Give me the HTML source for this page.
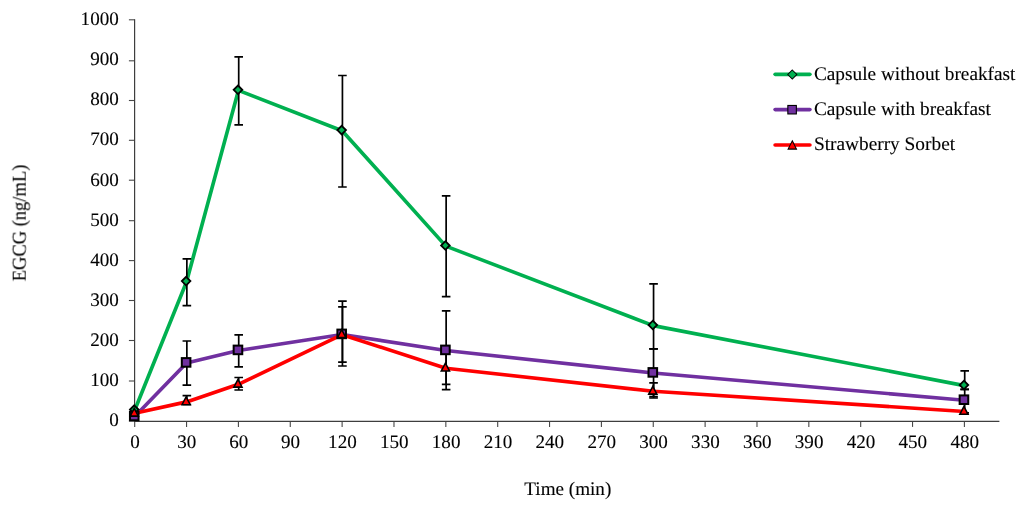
<!DOCTYPE html><html><head><meta charset="utf-8"><style>html,body{margin:0;padding:0;background:#fff}svg{display:block}text{font-family:"Liberation Serif",serif;fill:#000;stroke:#000;stroke-width:.12px;text-rendering:geometricPrecision}</style></head><body>
<svg width="1024" height="506" viewBox="0 0 1024 506">
<rect width="1024" height="506" fill="#fff"/>
<g stroke="#484848" stroke-width="1.1" fill="none">
<line x1="128.90" y1="421.10" x2="134.7" y2="421.10"/>
<line x1="128.90" y1="381.00" x2="134.7" y2="381.00"/>
<line x1="128.90" y1="340.50" x2="134.7" y2="340.50"/>
<line x1="128.90" y1="300.50" x2="134.7" y2="300.50"/>
<line x1="128.90" y1="260.60" x2="134.7" y2="260.60"/>
<line x1="128.90" y1="220.70" x2="134.7" y2="220.70"/>
<line x1="128.90" y1="180.20" x2="134.7" y2="180.20"/>
<line x1="128.90" y1="140.30" x2="134.7" y2="140.30"/>
<line x1="128.90" y1="100.50" x2="134.7" y2="100.50"/>
<line x1="128.90" y1="60.80" x2="134.7" y2="60.80"/>
<line x1="128.90" y1="19.80" x2="134.7" y2="19.80"/>
<line x1="134.70" y1="421.1" x2="134.70" y2="426.90"/>
<line x1="186.56" y1="421.1" x2="186.56" y2="426.90"/>
<line x1="238.41" y1="421.1" x2="238.41" y2="426.90"/>
<line x1="290.27" y1="421.1" x2="290.27" y2="426.90"/>
<line x1="342.12" y1="421.1" x2="342.12" y2="426.90"/>
<line x1="393.98" y1="421.1" x2="393.98" y2="426.90"/>
<line x1="445.84" y1="421.1" x2="445.84" y2="426.90"/>
<line x1="497.69" y1="421.1" x2="497.69" y2="426.90"/>
<line x1="549.55" y1="421.1" x2="549.55" y2="426.90"/>
<line x1="601.41" y1="421.1" x2="601.41" y2="426.90"/>
<line x1="653.26" y1="421.1" x2="653.26" y2="426.90"/>
<line x1="705.12" y1="421.1" x2="705.12" y2="426.90"/>
<line x1="756.98" y1="421.1" x2="756.98" y2="426.90"/>
<line x1="808.83" y1="421.1" x2="808.83" y2="426.90"/>
<line x1="860.69" y1="421.1" x2="860.69" y2="426.90"/>
<line x1="912.54" y1="421.1" x2="912.54" y2="426.90"/>
<line x1="964.40" y1="421.1" x2="964.40" y2="426.90"/>
</g>
<g stroke="#3e3e3e" fill="none">
<line x1="134.6" y1="19.20" x2="134.6" y2="421.9" stroke-width="1.2"/>
<line x1="134" y1="421.3" x2="999.4" y2="421.3" stroke-width="1.3"/>
</g>
<g font-size="19.1" style="opacity:.999">
<text x="118.80" y="425.70" text-anchor="end">0</text>
<text x="118.80" y="385.67" text-anchor="end">100</text>
<text x="118.80" y="345.64" text-anchor="end">200</text>
<text x="118.80" y="305.61" text-anchor="end">300</text>
<text x="118.80" y="265.58" text-anchor="end">400</text>
<text x="118.80" y="225.55" text-anchor="end">500</text>
<text x="118.80" y="185.52" text-anchor="end">600</text>
<text x="118.80" y="145.49" text-anchor="end">700</text>
<text x="118.80" y="105.46" text-anchor="end">800</text>
<text x="118.80" y="65.43" text-anchor="end">900</text>
<text x="118.80" y="25.40" text-anchor="end">1000</text>
<text x="135.00" y="448.3" font-size="19.1" text-anchor="middle">0</text>
<text x="186.86" y="448.3" font-size="19.1" text-anchor="middle">30</text>
<text x="238.71" y="448.3" font-size="19.1" text-anchor="middle">60</text>
<text x="290.57" y="448.3" font-size="19.1" text-anchor="middle">90</text>
<text x="342.43" y="448.3" font-size="19.1" text-anchor="middle">120</text>
<text x="394.28" y="448.3" font-size="19.1" text-anchor="middle">150</text>
<text x="446.14" y="448.3" font-size="19.1" text-anchor="middle">180</text>
<text x="497.99" y="448.3" font-size="19.1" text-anchor="middle">210</text>
<text x="549.85" y="448.3" font-size="19.1" text-anchor="middle">240</text>
<text x="601.71" y="448.3" font-size="19.1" text-anchor="middle">270</text>
<text x="653.56" y="448.3" font-size="19.1" text-anchor="middle">300</text>
<text x="705.42" y="448.3" font-size="19.1" text-anchor="middle">330</text>
<text x="757.28" y="448.3" font-size="19.1" text-anchor="middle">360</text>
<text x="809.13" y="448.3" font-size="19.1" text-anchor="middle">390</text>
<text x="860.99" y="448.3" font-size="19.1" text-anchor="middle">420</text>
<text x="912.84" y="448.3" font-size="19.1" text-anchor="middle">450</text>
<text x="964.70" y="448.3" font-size="19.1" text-anchor="middle">480</text>
<text x="524.3" y="494.9" font-size="19.2" textLength="87.0" lengthAdjust="spacingAndGlyphs">Time (min)</text>
<text transform="translate(25.7,281.3) rotate(-90)" font-size="19.8" textLength="116.6" lengthAdjust="spacingAndGlyphs">EGCG (ng/mL)</text>
</g>
<polyline points="134.70,410.20 186.56,281.70 238.41,90.40 342.12,130.70 445.84,246.10 653.26,325.60 964.40,385.60" fill="none" stroke="#00b050" stroke-width="3.65" stroke-linejoin="round" stroke-linecap="round"/>
<polyline points="134.70,416.60 186.56,363.00 238.41,350.50 342.12,334.50 445.84,350.50 653.26,373.00 964.40,400.30" fill="none" stroke="#7030a0" stroke-width="3.65" stroke-linejoin="round" stroke-linecap="round"/>
<polyline points="134.70,413.30 186.56,401.90 238.41,384.30 342.12,334.70 445.84,368.20 653.26,391.30 964.40,411.50" fill="none" stroke="#ff0000" stroke-width="3.65" stroke-linejoin="round" stroke-linecap="round"/>
<g stroke="#000" stroke-width="1.7" fill="none"><path d="M186.86 258.80V305.70M182.56 258.80h8.6M182.56 305.70h8.6"/><path d="M238.71 56.80V124.80M234.41 56.80h8.6M234.41 124.80h8.6"/><path d="M342.43 75.50V187.00M338.12 75.50h8.6M338.12 187.00h8.6"/><path d="M446.14 195.90V296.70M441.84 195.90h8.6M441.84 296.70h8.6"/><path d="M653.56 283.80V348.90M649.26 283.80h8.6M649.26 348.90h8.6"/><path d="M964.70 370.90V389.40M960.40 370.90h8.6M960.40 389.40h8.6"/></g>
<g stroke="#000" stroke-width="1.7" fill="none"><path d="M186.86 341.00V385.10M182.56 341.00h8.6M182.56 385.10h8.6"/><path d="M238.71 334.80V366.80M234.41 334.80h8.6M234.41 366.80h8.6"/><path d="M342.43 301.20V366.00M338.12 301.20h8.6M338.12 366.00h8.6"/><path d="M446.14 310.80V389.70M441.84 310.80h8.6M441.84 389.70h8.6"/><path d="M653.56 348.90V396.60M649.26 348.90h8.6M649.26 396.60h8.6"/><path d="M964.70 389.40V412.80M960.40 389.40h8.6M960.40 412.80h8.6"/></g>
<g stroke="#000" stroke-width="1.7" fill="none"><path d="M186.86 395.70V404.50M182.56 395.70h8.6M182.56 404.50h8.6"/><path d="M238.71 377.50V390.00M234.41 377.50h8.6M234.41 390.00h8.6"/><path d="M342.43 306.90V362.10M338.12 306.90h8.6M338.12 362.10h8.6"/><path d="M446.14 350.60V384.40M441.84 350.60h8.6M441.84 384.40h8.6"/><path d="M653.56 382.90V398.00M649.26 382.90h8.6M649.26 398.00h8.6"/></g>
<path d="M134.25 405.30L138.55 409.60L134.25 413.90L129.95 409.60Z" fill="#00b050" stroke="#000" stroke-width="1.8"/>
<path d="M186.11 276.80L190.41 281.10L186.11 285.40L181.81 281.10Z" fill="#00b050" stroke="#000" stroke-width="1.8"/>
<path d="M237.96 85.50L242.26 89.80L237.96 94.10L233.66 89.80Z" fill="#00b050" stroke="#000" stroke-width="1.8"/>
<path d="M341.68 125.80L345.98 130.10L341.68 134.40L337.38 130.10Z" fill="#00b050" stroke="#000" stroke-width="1.8"/>
<path d="M445.39 241.20L449.69 245.50L445.39 249.80L441.09 245.50Z" fill="#00b050" stroke="#000" stroke-width="1.8"/>
<path d="M652.81 320.70L657.11 325.00L652.81 329.30L648.51 325.00Z" fill="#00b050" stroke="#000" stroke-width="1.8"/>
<path d="M963.95 380.70L968.25 385.00L963.95 389.30L959.65 385.00Z" fill="#00b050" stroke="#000" stroke-width="1.8"/>
<rect x="129.95" y="411.70" width="8.6" height="8.6" fill="#7030a0" stroke="#000" stroke-width="2.0"/>
<rect x="181.81" y="358.10" width="8.6" height="8.6" fill="#7030a0" stroke="#000" stroke-width="2.0"/>
<rect x="233.66" y="345.60" width="8.6" height="8.6" fill="#7030a0" stroke="#000" stroke-width="2.0"/>
<rect x="337.38" y="329.60" width="8.6" height="8.6" fill="#7030a0" stroke="#000" stroke-width="2.0"/>
<rect x="441.09" y="345.60" width="8.6" height="8.6" fill="#7030a0" stroke="#000" stroke-width="2.0"/>
<rect x="648.51" y="368.10" width="8.6" height="8.6" fill="#7030a0" stroke="#000" stroke-width="2.0"/>
<rect x="959.65" y="395.40" width="8.6" height="8.6" fill="#7030a0" stroke="#000" stroke-width="2.0"/>
<path d="M134.25 408.30L138.35 416.10L130.15 416.10Z" fill="#ff0000" stroke="#000" stroke-width="1.55" stroke-linejoin="miter"/>
<path d="M186.11 396.90L190.21 404.70L182.01 404.70Z" fill="#ff0000" stroke="#000" stroke-width="1.55" stroke-linejoin="miter"/>
<path d="M237.96 379.30L242.06 387.10L233.86 387.10Z" fill="#ff0000" stroke="#000" stroke-width="1.55" stroke-linejoin="miter"/>
<path d="M341.68 329.70L345.78 337.50L337.57 337.50Z" fill="#ff0000" stroke="#000" stroke-width="1.55" stroke-linejoin="miter"/>
<path d="M445.39 363.20L449.49 371.00L441.29 371.00Z" fill="#ff0000" stroke="#000" stroke-width="1.55" stroke-linejoin="miter"/>
<path d="M652.81 386.30L656.91 394.10L648.71 394.10Z" fill="#ff0000" stroke="#000" stroke-width="1.55" stroke-linejoin="miter"/>
<path d="M963.95 406.50L968.05 414.30L959.85 414.30Z" fill="#ff0000" stroke="#000" stroke-width="1.55" stroke-linejoin="miter"/>
<line x1="775.1" y1="74.3" x2="809.9" y2="74.3" stroke="#00b050" stroke-width="3.65" stroke-linecap="round"/>
<path d="M792.30 70.00L796.80 74.50L792.30 79.00L787.80 74.50Z" fill="#00b050" stroke="#000" stroke-width="1.05"/>
<g style="opacity:.999"><text x="813.9" y="79.90" font-size="19.2" textLength="201.6" lengthAdjust="spacingAndGlyphs">Capsule without breakfast</text></g>
<line x1="775.1" y1="109.6" x2="809.9" y2="109.6" stroke="#7030a0" stroke-width="3.65" stroke-linecap="round"/>
<rect x="787.85" y="105.45" width="8.5" height="8.5" fill="#7030a0" stroke="#000" stroke-width="1.1"/>
<g style="opacity:.999"><text x="813.9" y="115.40" font-size="19.2" textLength="177.0" lengthAdjust="spacingAndGlyphs">Capsule with breakfast</text></g>
<line x1="775.1" y1="145.0" x2="809.9" y2="145.0" stroke="#ff0000" stroke-width="3.65" stroke-linecap="round"/>
<path d="M792.30 140.80L796.50 149.10L788.10 149.10Z" fill="#ff0000" stroke="#000" stroke-width="1.05" stroke-linejoin="miter"/>
<g style="opacity:.999"><text x="813.9" y="149.70" font-size="19.2" textLength="141.2" lengthAdjust="spacingAndGlyphs">Strawberry Sorbet</text></g>
</svg></body></html>
